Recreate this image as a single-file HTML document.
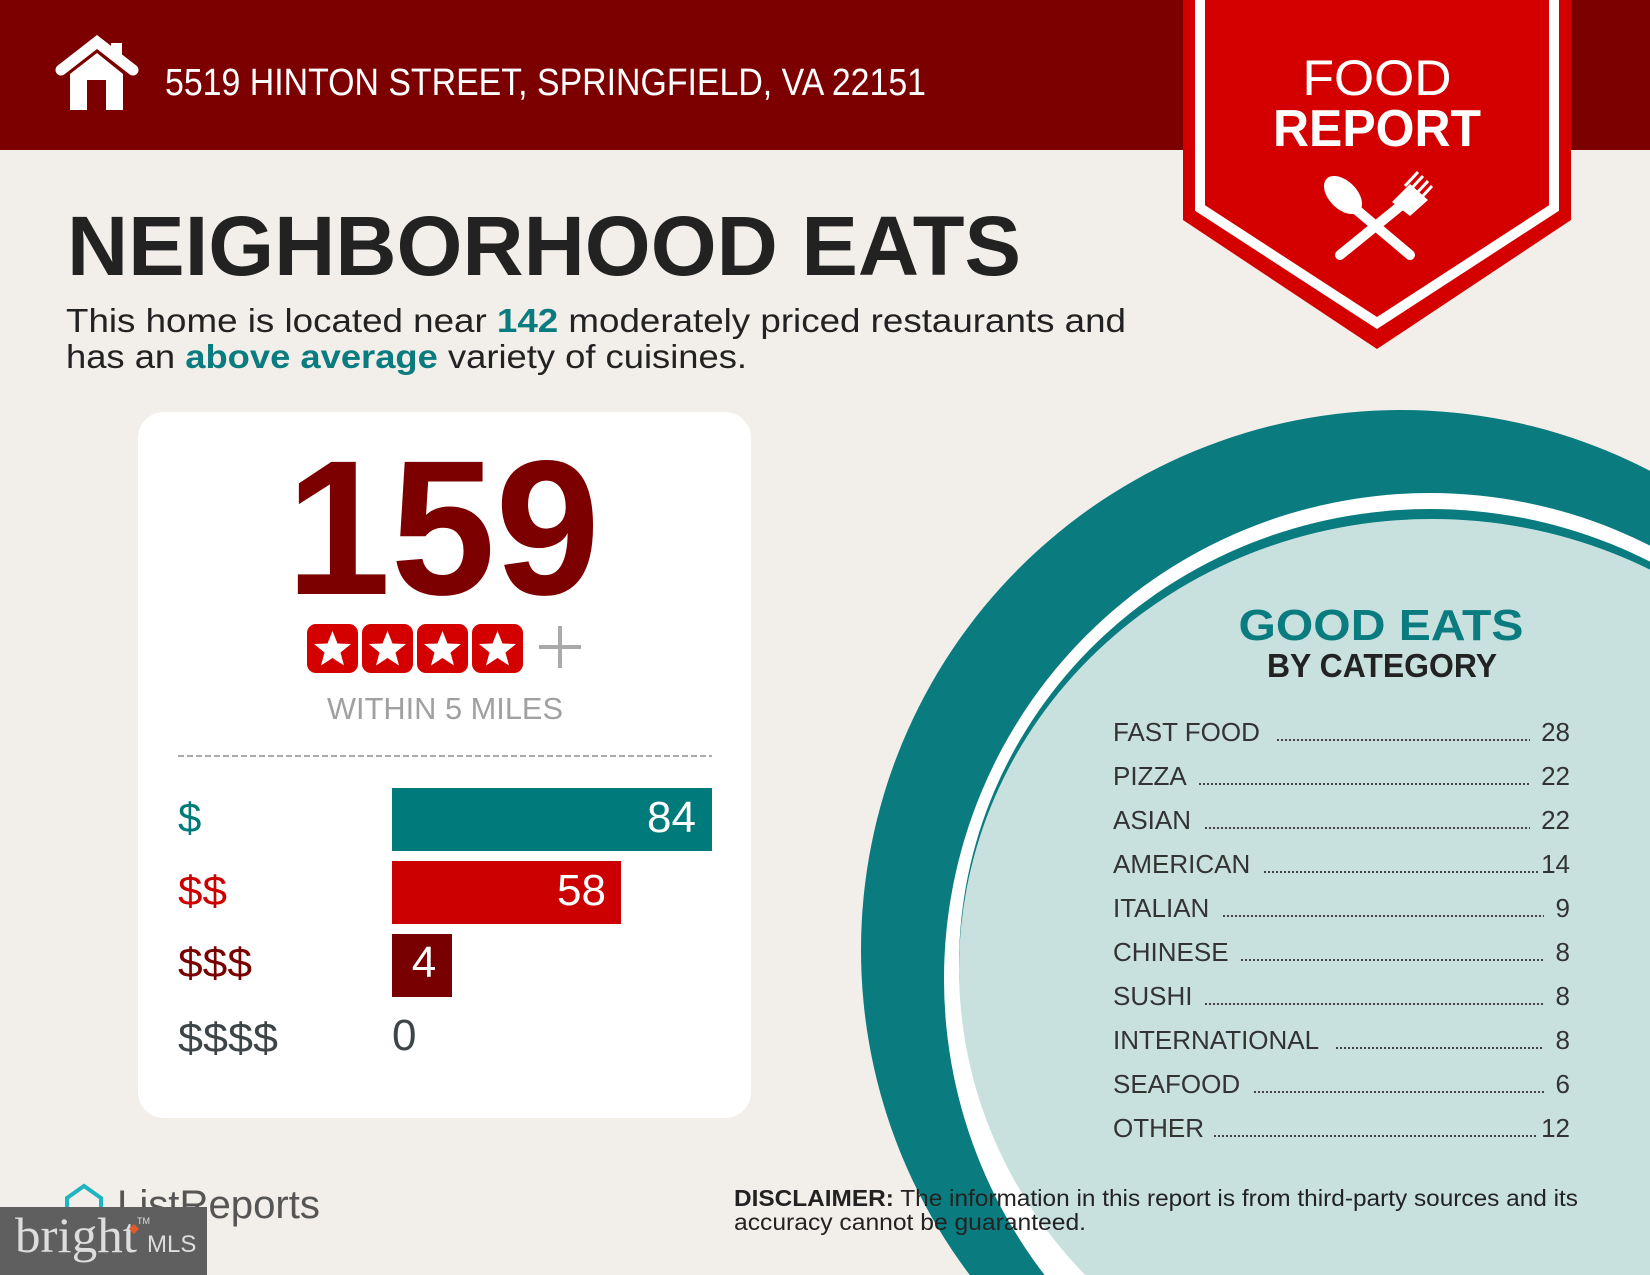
<!DOCTYPE html>
<html><head><meta charset="utf-8"><style>
html,body{margin:0;padding:0;background:#f2eeea;width:1650px;height:1275px;overflow:hidden;}
svg{display:block;}
text{font-family:"Liberation Sans",sans-serif;}
</style></head><body>
<svg width="1650" height="1275" viewBox="0 0 1650 1275" xmlns="http://www.w3.org/2000/svg">
<rect width="1650" height="1275" fill="#f2eeea"/>
<rect width="1650" height="150" fill="#7d0000"/>
<!-- house icon -->
<polyline points="61,70 97,42 133,70" fill="none" stroke="#fff" stroke-width="11" stroke-linecap="round" stroke-linejoin="miter"/>
<rect x="111" y="43" width="11" height="16" fill="#fff"/>
<path d="M70,74 L97,53 L123,74 L123,110 L106,110 L106,80 L87,80 L87,110 L70,110 Z" fill="#fff"/>
<text x="165" y="95" font-size="38" fill="#fff" textLength="761" lengthAdjust="spacingAndGlyphs">5519 HINTON STREET, SPRINGFIELD, VA 22151</text>
<!-- banner -->
<polygon points="1183,0 1571,0 1571,220 1377,349 1183,220" fill="#d40000"/>
<polyline points="1200,0 1200,208 1377,323 1554,208 1554,0" fill="none" stroke="#fff" stroke-width="10"/>
<text x="1377" y="95" font-size="50" fill="#fff" text-anchor="middle" textLength="149" lengthAdjust="spacingAndGlyphs">FOOD</text>
<text x="1377" y="146" font-size="52" font-weight="bold" fill="#fff" text-anchor="middle" textLength="208" lengthAdjust="spacingAndGlyphs">REPORT</text>
<!-- spoon & fork -->
<g fill="#fff" stroke="#fff">
<ellipse cx="1343" cy="195" rx="23" ry="14" transform="rotate(45 1343 195)" stroke="none"/>
<line x1="1352" y1="206" x2="1410" y2="255" stroke-width="10" stroke-linecap="round"/>
<line x1="1404" y1="203" x2="1340" y2="255" stroke-width="10" stroke-linecap="round"/>
<path d="M1392,202 L1410,184 L1428,200 L1410,216 Z" stroke="none"/>
<line x1="1405" y1="186" x2="1418" y2="172" stroke-width="3"/>
<line x1="1410" y1="190" x2="1423" y2="176" stroke-width="3"/>
<line x1="1415" y1="195" x2="1428" y2="181" stroke-width="3"/>
<line x1="1420" y1="199" x2="1432" y2="186" stroke-width="3"/>
</g>
<!-- heading -->
<text x="67" y="275" font-size="84" font-weight="bold" fill="#222" textLength="954" lengthAdjust="spacingAndGlyphs">NEIGHBORHOOD EATS</text>
<text x="66" y="332" font-size="33" fill="#222" textLength="1060" lengthAdjust="spacingAndGlyphs">This home is located near <tspan fill="#0a7c80" font-weight="bold">142</tspan> moderately priced restaurants and</text>
<text x="66" y="368" font-size="33" fill="#222" textLength="681" lengthAdjust="spacingAndGlyphs">has an <tspan fill="#0a7c80" font-weight="bold">above average</tspan> variety of cuisines.</text>
<!-- circle -->
<circle cx="1401" cy="950" r="540" fill="#0a7c80"/>
<circle cx="1430" cy="979" r="486" fill="#fff"/>
<ellipse cx="1430" cy="964" rx="471" ry="455" fill="#0a7c80"/>
<ellipse cx="1432" cy="969" rx="473" ry="450" fill="#c8e1df"/>
<!-- card -->
<rect x="138" y="412" width="613" height="706" rx="26" fill="#fff"/>
<text x="443" y="594" font-size="192" font-weight="bold" fill="#7d0000" text-anchor="middle" textLength="314" lengthAdjust="spacingAndGlyphs">159</text>
<g>
<rect x="307" y="624" width="51" height="49" rx="9" fill="#d40000"/>
<rect x="362" y="624" width="51" height="49" rx="9" fill="#d40000"/>
<rect x="417" y="624" width="51" height="49" rx="9" fill="#d40000"/>
<rect x="472" y="624" width="51" height="49" rx="9" fill="#d40000"/>
<g fill="#fff">
<polygon points="332.5,631 337.5,643.5 351,644 340.5,652.5 344,665.5 332.5,658 321,665.5 324.5,652.5 314,644 327.5,643.5"/>
<polygon points="387.5,631 392.5,643.5 406,644 395.5,652.5 399,665.5 387.5,658 376,665.5 379.5,652.5 369,644 382.5,643.5"/>
<polygon points="442.5,631 447.5,643.5 461,644 450.5,652.5 454,665.5 442.5,658 431,665.5 434.5,652.5 424,644 437.5,643.5"/>
<polygon points="497.5,631 502.5,643.5 516,644 505.5,652.5 509,665.5 497.5,658 486,665.5 489.5,652.5 479,644 492.5,643.5"/>
</g>
<rect x="539" y="645" width="42" height="4" fill="#aaa"/>
<rect x="558" y="626" width="4" height="42" fill="#aaa"/>
</g>
<text x="327" y="719" font-size="31" fill="#a0a0a0" textLength="236" lengthAdjust="spacingAndGlyphs">WITHIN 5 MILES</text>
<line x1="178" y1="756" x2="712" y2="756" stroke="#aaa" stroke-width="2" stroke-dasharray="6,3"/>
<rect x="392" y="788" width="320" height="63" fill="#007a7a"/>
<rect x="392" y="861" width="229" height="63" fill="#cc0000"/>
<rect x="392" y="934" width="60" height="63" fill="#780000"/>
<g font-size="44" fill="#fff">
<text x="696" y="832" text-anchor="end">84</text>
<text x="606" y="905" text-anchor="end">58</text>
<text x="424" y="977" text-anchor="middle">4</text>
</g>
<text x="392" y="1050" font-size="44" fill="#3d4548">0</text>
<g font-size="42">
<text x="178" y="832" fill="#007a7a">$</text>
<text x="178" y="905" fill="#cc0000" textLength="49" lengthAdjust="spacingAndGlyphs">$$</text>
<text x="178" y="977" fill="#780000" textLength="74" lengthAdjust="spacingAndGlyphs">$$$</text>
<text x="178" y="1052" fill="#3d4548" textLength="100" lengthAdjust="spacingAndGlyphs">$$$$</text>
</g>
<!-- good eats -->
<text x="1381" y="640" font-size="44" font-weight="bold" fill="#0a7c80" text-anchor="middle" textLength="285" lengthAdjust="spacingAndGlyphs">GOOD EATS</text>
<text x="1382" y="677" font-size="33" font-weight="bold" fill="#222" text-anchor="middle" textLength="230" lengthAdjust="spacingAndGlyphs">BY CATEGORY</text>
<g font-size="26" fill="#333">
<text x="1113" y="741">FAST FOOD</text><text x="1570" y="741" text-anchor="end">28</text>
<text x="1113" y="785">PIZZA</text><text x="1570" y="785" text-anchor="end">22</text>
<text x="1113" y="829">ASIAN</text><text x="1570" y="829" text-anchor="end">22</text>
<text x="1113" y="873">AMERICAN</text><text x="1570" y="873" text-anchor="end">14</text>
<text x="1113" y="917">ITALIAN</text><text x="1570" y="917" text-anchor="end">9</text>
<text x="1113" y="961">CHINESE</text><text x="1570" y="961" text-anchor="end">8</text>
<text x="1113" y="1005">SUSHI</text><text x="1570" y="1005" text-anchor="end">8</text>
<text x="1113" y="1049">INTERNATIONAL</text><text x="1570" y="1049" text-anchor="end">8</text>
<text x="1113" y="1093">SEAFOOD</text><text x="1570" y="1093" text-anchor="end">6</text>
<text x="1113" y="1137">OTHER</text><text x="1570" y="1137" text-anchor="end">12</text>
</g>
<g stroke="#444" stroke-width="2" stroke-dasharray="2,2">
<line x1="1277" y1="740" x2="1530" y2="740"/>
<line x1="1199" y1="784" x2="1530" y2="784"/>
<line x1="1205" y1="828" x2="1530" y2="828"/>
<line x1="1264" y1="872" x2="1538" y2="872"/>
<line x1="1223" y1="916" x2="1544" y2="916"/>
<line x1="1241" y1="960" x2="1544" y2="960"/>
<line x1="1205" y1="1004" x2="1544" y2="1004"/>
<line x1="1336" y1="1048" x2="1544" y2="1048"/>
<line x1="1254" y1="1092" x2="1544" y2="1092"/>
<line x1="1214" y1="1136" x2="1537" y2="1136"/>
</g>
<!-- disclaimer -->
<text x="734" y="1206" font-size="23" fill="#222" textLength="844" lengthAdjust="spacingAndGlyphs"><tspan font-weight="bold">DISCLAIMER:</tspan> The information in this report is from third-party sources and its</text>
<text x="734" y="1230" font-size="23" fill="#222" textLength="352" lengthAdjust="spacingAndGlyphs">accuracy cannot be guaranteed.</text>
<!-- logos -->
<path d="M67,1230 L67,1198 L84,1186 L101,1198 L101,1230" fill="none" stroke="#1fb5c0" stroke-width="4"/>
<text x="117" y="1218" font-size="40" fill="#555" textLength="203" lengthAdjust="spacingAndGlyphs">ListReports</text>
<rect x="0" y="1207" width="207" height="68" fill="#5f5f5f"/>
<text x="15" y="1252" style="font-family:'Liberation Serif',serif" font-size="50" fill="#ddd" textLength="122" lengthAdjust="spacingAndGlyphs">bright</text>
<text x="147" y="1252" font-size="24" fill="#ddd">MLS</text>
<text x="137" y="1224" font-size="9" fill="#ddd">TM</text>
<path d="M129,1229 l5,-5 5,5 -5,5z" fill="#e05a2a"/>
</svg>
</body></html>
